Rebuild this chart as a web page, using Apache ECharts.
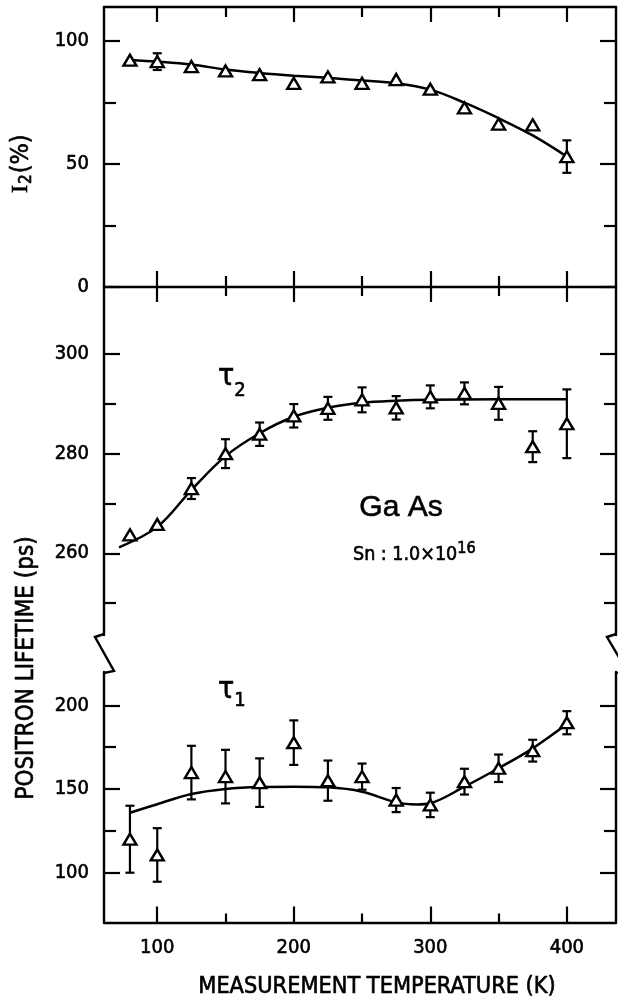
<!DOCTYPE html>
<html><head><meta charset="utf-8">
<script src="https://cdn.jsdelivr.net/npm/echarts@6/dist/echarts.min.js"></script>
<style>html,body{margin:0;padding:0;background:#fff}#c{width:618px;height:997px}</style>
</head><body><div id="c"></div>
<script>
// ---- data ----
const temps = [80,100,125,150,175,200,225,250,275,300,325,350,375,400];
const i2Values = [92.2,91.6,89.6,87.8,86.3,82.8,85.4,82.8,84.3,80.4,72.8,66.2,65.9,53.0];
const i2Errors = [0,3.4,0,0,0,0,0,0,0,0,0,0,0,6.6];
const i2CurveT = [80,100,125,150,175,200,225,250,275,300,325,350,375,400];
const i2CurveV = [92.3,91.6,90.4,88.4,87.0,85.9,85.0,83.9,82.8,80.2,74.9,68.6,61.6,53.0];
const tau2Values = [263.7,265.8,273.0,280.0,283.9,287.6,289.1,290.8,289.2,291.4,292.1,290.1,281.4,286.0];
const tau2Errors = [0,0,2.1,2.9,2.35,2.35,2.3,2.5,2.35,2.3,2.2,3.3,3.1,6.9];
const tau2CurveT = [72,100,125,150,175,200,225,250,275,300,350,400];
const tau2CurveV = [261.2,265.3,272.7,279.5,284.1,287.4,289.2,290.2,290.6,290.8,290.9,290.9];
const tau1Values = [120.0,110.6,159.8,157.4,153.8,177.7,155.0,157.4,143.4,140.5,154.4,162.4,172.9,189.6];
const tau1Errors = [20,16,16,16,14.5,13.3,12,7.8,7.2,7.3,7.7,8.2,6.5,6.9];
const tau1CurveT = [80,100,125,150,175,200,225,250,275,290,300,325,350,375,400];
const tau1CurveV = [135.8,140.9,147.0,150.0,151.2,151.4,151.0,148.4,142.0,140.8,141.5,151.4,162.4,174.3,188.8];
const xMajorTicks = [100,200,300,400];
const xMinorTicks = [150,250,350];
const i2MajorTicks = [0,50,100];
const i2MinorTicks = [25,75];
const tau2MajorTicks = [260,280,300];
const tau2MinorTicks = [250,270,290];
const tau1MajorTicks = [100,150,200];
const tau1MinorTicks = [125,175];

// ---- layout / style ----
const X_MIN = 61, X_MAX = 436;
const COND = "'DejaVu Sans Condensed','DejaVu Sans',sans-serif";
const REG = "'Liberation Sans',Arial,sans-serif";
const SERIF = "'Liberation Serif','DejaVu Serif',serif";
const LEFT = 104, WIDTH = 512;
const grids = [
  {left: LEFT, top: 7, width: WIDTH, height: 280},
  {left: LEFT, top: 287, width: WIDTH, height: 348},
  {left: LEFT, top: 672, width: WIDTH, height: 250.5}
];
const yRanges = [[0, 113.8], [243.6, 313.45], [70.25, 219.9]];
const yMajor = [i2MajorTicks, tau2MajorTicks, tau1MajorTicks];
const yMinor = [i2MinorTicks, tau2MinorTicks, tau1MinorTicks];

const lineStyle = {color: '#000', width: 2.4};
const tickStyle = {color: '#000', width: 2.2};
const labelStyle = {color: '#000', fontFamily: COND, fontSize: 20, textBorderColor: '#000', textBorderWidth: 0.6};
function xAx(grid, pos, showLine, ticks, len, labels) {
  return {type: 'value', gridIndex: grid, position: pos, min: X_MIN, max: X_MAX,
    axisLine: {show: showLine, onZero: false, lineStyle: lineStyle},
    axisTick: {show: true, inside: true, length: len, customValues: ticks, lineStyle: tickStyle},
    axisLabel: Object.assign({show: !!labels, customValues: ticks, margin: 15}, labelStyle),
    splitLine: {show: false}};
}
function yAx(grid, pos, showLine, ticks, len, labels) {
  return {type: 'value', gridIndex: grid, position: pos, min: yRanges[grid][0], max: yRanges[grid][1],
    axisLine: {show: showLine, onZero: false, lineStyle: lineStyle},
    axisTick: {show: true, inside: true, length: len, customValues: ticks, lineStyle: tickStyle},
    axisLabel: Object.assign({show: !!labels, customValues: ticks, margin: 15}, labelStyle),
    splitLine: {show: false}};
}
const xAxes = [
  xAx(0, 'bottom', true, xMajorTicks, 16), xAx(0, 'bottom', false, xMinorTicks, 11),
  xAx(0, 'top', true, xMajorTicks, 15), xAx(0, 'top', false, xMinorTicks, 10),
  xAx(1, 'top', false, xMajorTicks, 15), xAx(1, 'top', false, xMinorTicks, 9),
  xAx(2, 'bottom', true, xMajorTicks, 16, true), xAx(2, 'bottom', false, xMinorTicks, 9)
];
const yAxes = [];
for (let g = 0; g < 3; g++) {
  yAxes.push(yAx(g, 'left', true, yMajor[g], 16, true));
  yAxes.push(yAx(g, 'left', false, yMinor[g], 12));
  yAxes.push(yAx(g, 'right', true, yMajor[g], 16));
  yAxes.push(yAx(g, 'right', false, yMinor[g], 12));
}

function errRender(params, api) {
  const x = api.value(0), lo = api.value(1), hi = api.value(2);
  const p1 = api.coord([x, lo]), p2 = api.coord([x, hi]);
  const w = 4.5, st = {stroke: '#000', lineWidth: 2.2};
  return {type: 'group', children: [
    {type: 'line', shape: {x1: p1[0], y1: p1[1], x2: p2[0], y2: p2[1]}, style: st},
    {type: 'line', shape: {x1: p1[0] - w, y1: p1[1], x2: p1[0] + w, y2: p1[1]}, style: st},
    {type: 'line', shape: {x1: p2[0] - w, y1: p2[1], x2: p2[0] + w, y2: p2[1]}, style: st}
  ]};
}
function panelSeries(xi, yi, vals, errs, cT, cV) {
  const pts = temps.map((t, i) => [t, vals[i]]);
  const eb = [];
  temps.forEach((t, i) => { if (errs[i] > 0) eb.push([t, vals[i] - errs[i], vals[i] + errs[i]]); });
  return [
    {type: 'custom', xAxisIndex: xi, yAxisIndex: yi, renderItem: errRender, data: eb, z: 2, silent: true,
     encode: {x: 0, y: [1, 2]}},
    {type: 'line', xAxisIndex: xi, yAxisIndex: yi, data: cT.map((t, i) => [t, cV[i]]), smooth: 0.35,
     showSymbol: false, symbol: 'none', lineStyle: {color: '#000', width: 2.5}, z: 3, silent: true},
    {type: 'scatter', xAxisIndex: xi, yAxisIndex: yi, data: pts, symbol: 'triangle', symbolSize: [13, 11],
     itemStyle: {color: '#fff', borderColor: '#000', borderWidth: 2.4, opacity: 1}, z: 4, silent: true}
  ];
}
const series = [].concat(
  panelSeries(0, 0, i2Values, i2Errors, i2CurveT, i2CurveV),
  panelSeries(4, 4, tau2Values, tau2Errors, tau2CurveT, tau2CurveV),
  panelSeries(6, 8, tau1Values, tau1Errors, tau1CurveT, tau1CurveV)
);

// text helpers
const mctx = document.createElement('canvas').getContext('2d');
function measure(t, size, fam) { mctx.font = size + 'px ' + fam; return mctx.measureText(t).width; }
function txt(x, y, text, size, fam, rot, align) {
  return {type: 'text', x: x, y: y, rotation: rot || 0, silent: true,
    style: {text: text, fontSize: size, fontFamily: fam, fill: '#000', stroke: '#000', lineWidth: 0.6,
            align: align || 'center', verticalAlign: 'middle'}};
}
// lay out a run of text pieces; rot=0: left to right; rot=PI/2: bottom to top
function runs(x0, y0, parts, rot) {
  const out = []; let acc = 0;
  parts.forEach(p => {
    if (rot) out.push(txt(x0 + (p.dy || 0), y0 - acc, p.t, p.size, p.fam, rot, 'left'));
    else out.push(txt(x0 + acc, y0 + (p.dy || 0), p.t, p.size, p.fam, 0, 'left'));
    acc += measure(p.t, p.size, p.fam) + (p.gap || 0);
  });
  return out;
}
const brk = {stroke: '#000', lineWidth: 2.4, fill: null};
const graphic = [].concat(
  runs(21, 193, [{t: 'I', size: 24, fam: SERIF, gap: 1}, {t: '2', size: 17, fam: COND, dy: 6, gap: 1}, {t: '(%)', size: 25, fam: COND}], Math.PI / 2),
  [txt(27, 668, 'POSITRON LIFETIME (ps)', 24, COND, Math.PI / 2),
   txt(377, 987, 'MEASUREMENT TEMPERATURE (K)', 23.3, COND)],
  runs(218, 377, [{t: 'τ', size: 30, fam: COND}, {t: '2', size: 20, fam: COND, dy: 14}]),
  runs(218, 690, [{t: 'τ', size: 30, fam: COND}, {t: '1', size: 20, fam: COND, dy: 11}]),
  [txt(401, 508, 'Ga As', 30, REG)],
  runs(353, 555, [{t: 'Sn : 1.0×10', size: 19.5, fam: COND}, {t: '16', size: 16, fam: COND, dy: -6}]),
  [{type: 'polyline', silent: true, shape: {points: [[LEFT, 634], [95, 637], [114, 671], [LEFT, 673]]}, style: brk},
   {type: 'polyline', silent: true, shape: {points: [[LEFT + WIDTH, 634], [607, 637], [627, 671], [LEFT + WIDTH, 673]]}, style: brk}]
);

const chart = echarts.init(document.getElementById('c'), null, {renderer: 'canvas'});
chart.setOption({
  animation: false,
  backgroundColor: '#fff',
  grid: grids,
  xAxis: xAxes,
  yAxis: yAxes,
  series: series,
  graphic: graphic
});
</script></body></html>
